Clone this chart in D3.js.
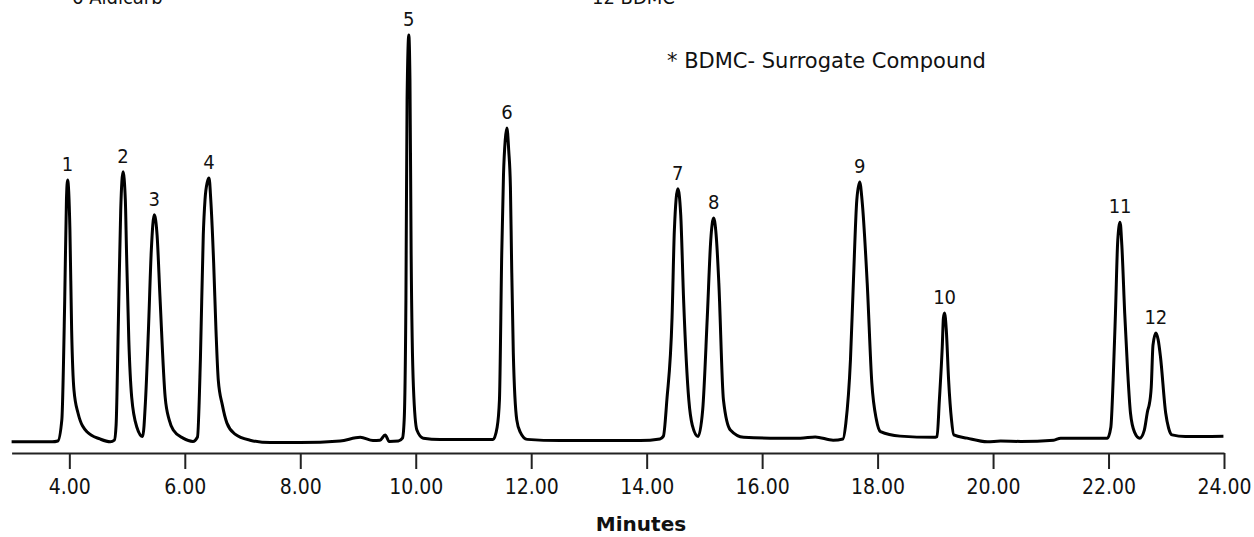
<!DOCTYPE html>
<html>
<head>
<meta charset="utf-8">
<script src="https://cdn.jsdelivr.net/npm/d3@7"></script>
<style>
    html, body { margin: 0; padding: 0; background: #fff; }
    svg text { font-family: "DejaVu Sans Condensed", "DejaVu Sans", sans-serif; font-stretch: condensed; fill: #111; }
    svg text.wide { font-family: "DejaVu Sans", sans-serif; font-stretch: normal; }
</style>
</head>
<body>
<svg id="chart" width="1254" height="537"></svg>
<script>
// retention time (min) of each trace point
const traceTimes = [
    3.00, 3.70, 3.80, 3.87, 3.92, 3.95, 3.97, 4.01, 4.04, 4.08, 4.15, 4.31, 4.53, 4.71, 4.78,
    4.81, 4.85, 4.89, 4.93, 4.97, 4.99, 5.03, 5.08, 5.17, 5.27,
    5.32, 5.37, 5.42, 5.47, 5.52, 5.57, 5.66, 5.73, 5.80, 5.97, 6.14,
    6.22, 6.27, 6.32, 6.35, 6.39, 6.42, 6.45, 6.50, 6.54, 6.58, 6.65, 6.73, 6.87, 7.13, 7.48, 8.00, 8.69,
    9.04, 9.26, 9.38, 9.47, 9.54, 9.70, 9.77,
    9.80, 9.83, 9.85, 9.88, 9.90, 9.92, 9.96, 10.02, 10.13, 10.42, 11.34,
    11.41, 11.45, 11.49, 11.52, 11.55, 11.58, 11.61, 11.64, 11.66, 11.69, 11.75, 11.81, 11.93, 12.50, 13.89, 14.23,
    14.29, 14.35, 14.44, 14.48, 14.54, 14.59, 14.64, 14.73, 14.79, 14.89,
    14.97, 15.05, 15.11, 15.16, 15.21, 15.25, 15.33, 15.45, 15.68, 16.14, 16.66, 16.92, 17.23, 17.40,
    17.45, 17.53, 17.58, 17.64, 17.69, 17.73, 17.82, 17.90, 17.98, 18.05, 18.39, 18.97,
    19.03, 19.07, 19.12, 19.14, 19.16, 19.19, 19.23, 19.28, 19.32, 19.55, 19.90, 20.13, 20.48, 21.05, 21.17, 21.98,
    22.04, 22.08, 22.12, 22.16, 22.20, 22.23, 22.28, 22.33, 22.38, 22.45, 22.54,
    22.62, 22.68, 22.70, 22.74, 22.77, 22.82, 22.86, 22.90, 22.99, 23.04, 23.10, 23.33, 23.99
];

// detector response at each time (arbitrary units, tallest peak = 100)
const traceResponse = [
    -0.2, -0.2, 0.0, 5.2, 34.7, 59.4, 64.3, 52.0, 27.3, 12.6, 6.9, 2.2, 0.5, -0.2, 0.2,
    3.9, 29.8, 56.9, 66.3, 59.4, 47.0, 24.9, 10.8, 3.4, 1.1,
    10.1, 27.3, 47.0, 55.7, 50.7, 35.5, 10.8, 5.2, 2.7, 0.7, -0.1,
    1.0, 20.0, 50.7, 59.4, 63.8, 64.8, 59.4, 43.8, 27.3, 15.0, 8.9, 4.4, 1.7, 0.2, -0.4, -0.4, 0.0,
    0.9, 0.1, 0.2, 1.5, -0.1, 0.0, 0.7,
    5.2, 34.7, 84.0, 100.0, 88.9, 47.0, 13.3, 2.7, 0.7, 0.4, 0.4,
    3.4, 10.1, 46.3, 65.5, 74.1, 77.1, 71.7, 62.6, 44.6, 21.7, 5.2, 2.2, 0.4, 0.1, 0.1, 0.5,
    1.2, 10.1, 30.5, 52.0, 62.1, 55.7, 34.7, 10.1, 3.9, 1.1,
    7.6, 30.5, 49.5, 54.9, 49.5, 38.9, 10.1, 2.7, 0.9, 0.7, 0.7, 1.0, 0.2, 0.5,
    4.4, 20.0, 38.9, 59.4, 63.8, 59.4, 38.9, 14.3, 5.2, 2.3, 1.2, 0.9,
    1.1, 10.1, 23.2, 30.3, 31.5, 27.3, 15.0, 5.2, 1.5, 0.7, -0.2, 0.0, -0.1, 0.2, 0.7, 0.7,
    3.4, 15.0, 31.5, 49.5, 53.9, 48.3, 31.5, 17.5, 6.9, 2.2, 0.7,
    2.7, 7.6, 8.6, 13.3, 23.6, 26.6, 24.9, 20.7, 6.9, 3.2, 1.5, 1.1, 1.2
];

// peak numbers and their approximate retention times
const peakNames = ["1", "2", "3", "4", "5", "6", "7", "8", "9", "10", "11", "12"];
const peakTimes = [3.97, 4.93, 5.47, 6.42, 9.88, 11.58, 14.54, 15.16, 17.69, 19.16, 22.20, 22.82];

// axis ticks
const tickMinutes = [4, 6, 8, 10, 12, 14, 16, 18, 20, 22, 24];

// legend lines (the list above the plot is cut off at the top edge)
const legendLines = ["6 Aldicarb", "12 BDMC"];
const noteText = "* BDMC- Surrogate Compound";

const svg = d3.select("#chart");

const x = d3.scaleLinear().domain([3, 24]).range([11.6, 1224]);
const y = d3.scaleLinear().domain([0, 100]).range([441, 35]);

const points = traceTimes.map((t, i) => ({ t: t, r: traceResponse[i] }));

//x axis
const axis = svg.append("g")
    .attr("transform", "translate(0,453)")
    .call(d3.axisBottom(x)
        .tickValues(tickMinutes)
        .tickFormat(d3.format(".2f"))
        .tickSize(16)
        .tickSizeOuter(0)
        .tickPadding(10));

axis.select(".domain").attr("stroke", "#222").attr("stroke-width", 2);
axis.selectAll(".tick line").attr("stroke", "#222").attr("stroke-width", 2);
axis.selectAll(".tick text")
    .attr("font-size", 21)
    .attr("fill", "#111");
axis.attr("font-family", null);

// axis title
svg.append("text")
    .attr("class", "wide")
    .attr("x", 641)
    .attr("y", 531)
    .attr("text-anchor", "middle")
    .attr("font-size", 20)
    .attr("font-weight", "bold")
    .text("Minutes");

// the trace
const line = d3.line()
    .x(d => x(d.t))
    .y(d => y(d.r))
    .curve(d3.curveMonotoneX);

svg.append("path")
    .datum(points)
    .attr("fill", "none")
    .attr("stroke", "#000")
    .attr("stroke-width", 3)
    .attr("stroke-linejoin", "round")
    .attr("d", line);

// peak labels sit just above the apex found in the trace
peakNames.forEach((name, i) => {
    const near = points.filter(p => Math.abs(p.t - peakTimes[i]) < 0.08);
    const apex = d3.greatest(near, p => p.r);
    svg.append("text")
        .attr("x", x(apex.t))
        .attr("y", y(apex.r) - 9)
        .attr("text-anchor", "middle")
        .attr("font-size", 20)
        .text(name);
});

// legend lines, clipped by the top edge like in the original
svg.append("text").attr("x", 72).attr("y", 4).attr("font-size", 20).text(legendLines[0]);
svg.append("text").attr("x", 592).attr("y", 4).attr("font-size", 20).text(legendLines[1]);

svg.append("text")
    .attr("class", "wide")
    .attr("x", 667)
    .attr("y", 68)
    .attr("font-size", 21)
    .text(noteText);
</script>
</body>
</html>
